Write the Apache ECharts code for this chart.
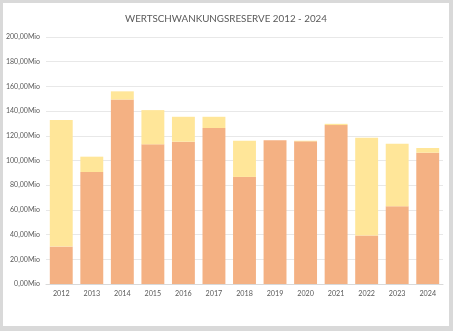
<!DOCTYPE html>
<html>
<head>
<meta charset="utf-8">
<script src="https://cdn.jsdelivr.net/npm/echarts@6/dist/echarts.min.js"></script>
<style>
  html, body { margin: 0; padding: 0; background: #d9d9d9; }
  #frame { position: absolute; left: 3px; top: 3px; width: 446px; height: 323px; background: #ffffff; }
  #chart { width: 446px; height: 323px; }
</style>
</head>
<body>
<div id="frame"><div id="chart"></div></div>
<script>
// Jahre und Werte in Mio
const years = ['2012','2013','2014','2015','2016','2017','2018','2019','2020','2021','2022','2023','2024'];
const reserveIst = [30.3, 90.7, 149.4, 113.1, 115.2, 126.3, 86.7, 116.3, 115.5, 128.7, 39.3, 63.0, 106.3];
const reserveDifferenz = [102.5, 12.4, 6.6, 27.7, 20.2, 9.1, 29.3, 0, 0.5, 1.0, 79.1, 50.6, 3.8];
const yTicks = { min: 0, max: 200, interval: 20 };

const chart = echarts.init(document.getElementById('chart'));
const fontFamily = 'Lato, Open Sans, sans-serif';
chart.setOption({
  animation: false,
  title: {
    text: 'WERTSCHWANKUNGSRESERVE 2012 - 2024',
    left: 'center',
    top: 6,
    textStyle: { fontFamily, fontSize: 9.8, fontWeight: 'normal', color: '#595959' }
  },
  grid: { left: 42, right: 6, top: 34, bottom: 42 },
  xAxis: {
    type: 'category',
    data: years,
    axisLine: { lineStyle: { color: '#d9d9d9' } },
    axisTick: { show: false },
    axisLabel: { fontFamily, fontSize: 7.2, color: '#595959', margin: 6 }
  },
  yAxis: {
    type: 'value',
    min: yTicks.min,
    max: yTicks.max,
    interval: yTicks.interval,
    axisLine: { show: false },
    axisTick: { show: false },
    splitLine: { lineStyle: { color: '#e8e8e8' } },
    axisLabel: {
      fontFamily, fontSize: 7, color: '#595959', margin: 6,
      formatter: v => v.toFixed(2).replace('.', ',') + 'Mio'
    }
  },
  series: [
    {
      type: 'bar', stack: 'r', data: reserveIst,
      barCategoryGap: '25%',
      itemStyle: { color: '#f4b183' }
    },
    {
      type: 'bar', stack: 'r', data: reserveDifferenz,
      itemStyle: { color: '#ffe699' }
    }
  ]
});
</script>
</body>
</html>
